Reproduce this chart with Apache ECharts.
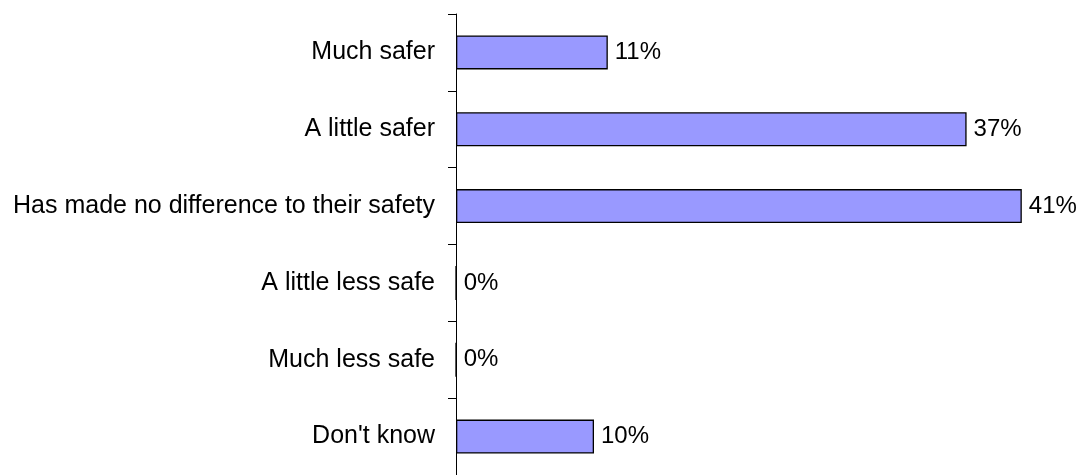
<!DOCTYPE html>
<html>
<head>
<meta charset="utf-8">
<script src="https://cdn.jsdelivr.net/npm/echarts@6/dist/echarts.min.js"></script>
<style>
  html, body { margin: 0; padding: 0; background: #ffffff; }
  #chart { width: 1082px; height: 475px; }
</style>
</head>
<body>
<div id="chart"></div>
<script>
// Response categories, top to bottom
const categories = [
  'Much safer',
  'A little safer',
  'Has made no difference to their safety',
  'A little less safe',
  'Much less safe',
  "Don't know"
];
// Share of respondents (%)
const shares = [11, 37, 41, 0, 0, 10];

const chart = echarts.init(document.getElementById('chart'));
chart.setOption({
  animation: false,
  backgroundColor: '#ffffff',
  grid: { left: 456, top: 14, width: 621, height: 465 },
  xAxis: {
    type: 'value',
    min: 0,
    max: 45,
    show: false
  },
  yAxis: {
    type: 'category',
    data: categories,
    inverse: true,
    axisLine: { show: true, lineStyle: { color: '#000000', width: 1 } },
    axisTick: { show: true, length: 8, lineStyle: { color: '#000000', width: 1 } },
    axisLabel: {
      color: '#000000',
      fontFamily: 'Liberation Sans, Arial, sans-serif',
      fontSize: 25,
      margin: 21
    }
  },
  series: [{
    type: 'bar',
    data: shares,
    barWidth: 34,
    itemStyle: { color: '#9999ff', borderColor: '#000000', borderWidth: 1.3 },
    label: {
      show: true,
      position: 'right',
      distance: 7,
      formatter: p => p.value + '%',
      color: '#000000',
      fontFamily: 'Liberation Sans, Arial, sans-serif',
      fontSize: 24
    }
  }]
});
</script>
</body>
</html>
